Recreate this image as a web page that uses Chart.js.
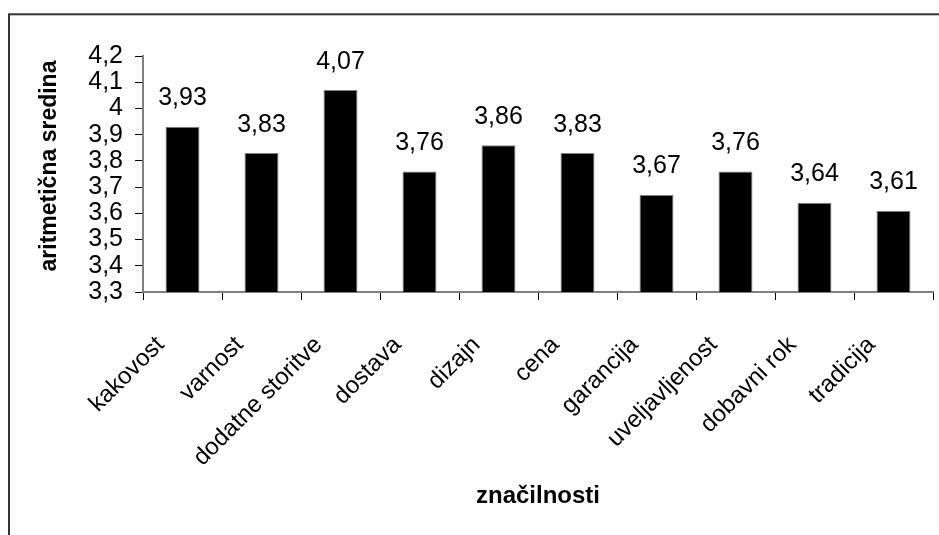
<!DOCTYPE html>
<html>
<head>
<meta charset="utf-8">
<script src="https://cdn.jsdelivr.net/npm/chart.js@4/dist/chart.umd.min.js"></script>
<style>
  html, body { margin: 0; padding: 0; background: #fff; }
  #wrap { width: 939px; height: 535px; position: relative; }
</style>
</head>
<body>
<div id="wrap"><canvas id="c" width="939" height="535"></canvas></div>
<script>
const categories = ['kakovost', 'varnost', 'dodatne storitve', 'dostava', 'dizajn', 'cena', 'garancija', 'uveljavljenost', 'dobavni rok', 'tradicija'];
const values = [3.93, 3.83, 4.07, 3.76, 3.86, 3.83, 3.67, 3.76, 3.64, 3.61];
const yMin = 3.3;
const yMax = 4.2;
const yStep = 0.1;
const xTitle = 'značilnosti';
const yTitle = 'aritmetična sredina';

const FONT = '"Liberation Sans", Arial, sans-serif';

function fmt(v) {
  return String(Number(v.toFixed(2))).replace('.', ',');
}

// outer frame, y-axis title and value labels above each bar
const decorations = {
  id: 'decorations',
  beforeDraw(chart) {
    const ctx = chart.ctx;
    ctx.save();
    ctx.fillStyle = '#fff';
    ctx.fillRect(0, 0, chart.width, chart.height);
    ctx.strokeStyle = '#333';
    ctx.lineWidth = 2;
    ctx.strokeRect(9, 14.3, 1200, 1200);
    ctx.restore();
  },
  afterDraw(chart) {
    const ctx = chart.ctx;
    const meta = chart.getDatasetMeta(0);
    ctx.save();
    ctx.fillStyle = '#000';
    ctx.font = '25px ' + FONT;
    ctx.textAlign = 'center';
    ctx.textBaseline = 'alphabetic';
    meta.data.forEach((bar, i) => {
      const v = chart.data.datasets[0].data[i];
      ctx.fillText(fmt(v), bar.x, bar.y - 21.5);
    });
    ctx.font = 'bold 23px ' + FONT;
    ctx.translate(50, 166);
    ctx.rotate(-Math.PI / 2);
    ctx.textBaseline = 'middle';
    ctx.fillText(yTitle, 0, 0);
    ctx.restore();
  }
};

new Chart(document.getElementById('c'), {
  type: 'bar',
  data: {
    labels: categories,
    datasets: [{
      data: values,
      backgroundColor: '#000',
      borderColor: '#808080',
      borderWidth: 1,
      categoryPercentage: 1,
      barPercentage: 0.43
    }]
  },
  options: {
    responsive: false,
    animation: false,
    devicePixelRatio: 1,
    layout: { padding: { top: 56, right: 6, left: 0, bottom: 0 } },
    plugins: { legend: { display: false }, tooltip: { enabled: false } },
    scales: {
      x: {
        grid: { display: true, drawOnChartArea: false, drawTicks: true, tickLength: 8, tickColor: '#000', offset: true },
        border: { display: true, color: '#808080', width: 2 },
        ticks: {
          color: '#000',
          font: { family: FONT, size: 24 },
          maxRotation: 45,
          minRotation: 45,
          autoSkip: false,
          labelOffset: -22,
          padding: 31
        },
        title: {
          display: true,
          text: xTitle,
          color: '#000',
          font: { family: FONT, size: 24, weight: 'bold' },
          padding: { top: 0, bottom: 24 }
        },
        afterFit(scale) {
          scale.height = 243;
          scale.paddingLeft = 0;
          scale.paddingRight = 0;
        }
      },
      y: {
        min: yMin,
        max: yMax,
        grid: { display: true, drawOnChartArea: false, drawTicks: true, tickLength: 8, tickColor: '#000' },
        border: { display: true, color: '#808080', width: 2 },
        ticks: {
          stepSize: yStep,
          autoSkip: false,
          color: '#000',
          font: { family: FONT, size: 25 },
          padding: 12,
          callback: (v) => fmt(v)
        },
        afterFit(scale) { scale.width = 143; }
      }
    }
  },
  plugins: [decorations]
});
</script>
</body>
</html>
